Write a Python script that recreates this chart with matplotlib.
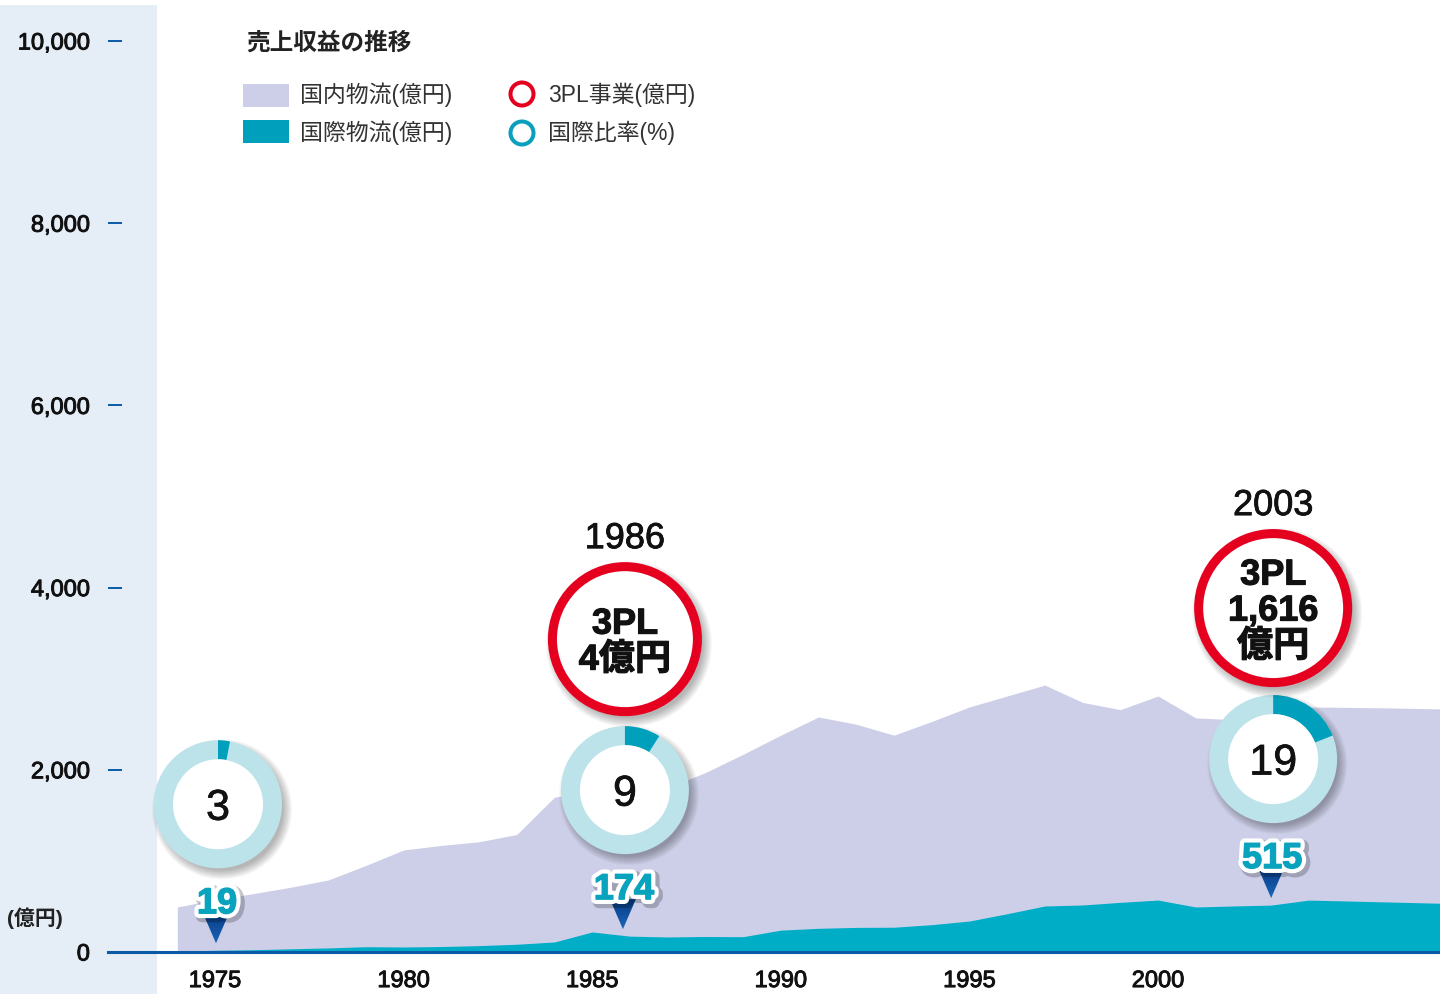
import matplotlib
matplotlib.use('Agg')
import numpy as np
import matplotlib.pyplot as plt
from matplotlib.patches import Rectangle, Circle, Wedge, Polygon
import matplotlib.patheffects as pe
from matplotlib.colors import LinearSegmentedColormap
from matplotlib.ticker import FuncFormatter

plt.rcParams['font.family'] = ['Liberation Sans', 'Noto Sans CJK JP']

# ---------------- data ----------------
years = list(range(1974, 2009))
domestic = [494, 575, 640, 710, 790, 950, 1120, 1170, 1210, 1290,
            1700, 1770, 1790, 1800, 1970, 2170, 2380, 2580, 2500, 2380,
            2530, 2690, 2810, 2930, 2740, 2660, 2810, 2570, 2550, 2600,
            2690, 2685, 2680, 2672, 2665]
international = [10, 19, 25, 35, 45, 58, 55, 60, 70, 85,
                 110, 220, 174, 165, 170, 168, 240, 260, 270, 272,
                 300, 340, 420, 505, 516, 545, 570, 494, 505, 515,
                 570, 560, 550, 540, 530]
xtick_years = [1975, 1980, 1985, 1990, 1995, 2000]
ytick_values = [0, 2000, 4000, 6000, 8000, 10000]
highlight_years = [1975, 1986, 2003]
intl_ratio = [3, 9, 19]
tpl_years = [1986, 2003]
tpl_values = [4, 1616]

title = '売上収益の推移'
legend_labels = ['国内物流(億円)', '国際物流(億円)', '3PL事業(億円)', '国際比率(%)']
unit_label = '(億円)'

# ---------------- style ----------------
W, H = 1440, 994
C_DOM = '#cdcfe8'
C_INT = '#00adc6'
C_PANEL = '#e5edf6'
C_AXIS = '#0a5aa8'
C_RING = '#bde3ea'
C_WEDGE = '#00a0bd'
C_RED = '#e60020'
C_LABEL = '#0aa3be'
TXT = '#111111'
annot_dx = [1, -7, 0]   # small horizontal nudges of the callouts (pixels)


def heavier(w=0.7, c=TXT):
    return [pe.withStroke(linewidth=w, foreground=c)]


fig = plt.figure(figsize=(W / 100, H / 100), dpi=100)
fig.patch.set_facecolor('white')
fig.add_artist(Rectangle((0, 0), 157 / W, (H - 5) / H, transform=fig.transFigure,
                         facecolor=C_PANEL, edgecolor='none', zorder=-10))

ax = fig.add_axes([157 / W, (H - 952) / H, (W - 157) / W, 952 / H])
ax.set_facecolor('white')
px_per_year = 37.72
ax.set_xlim(1975 - 58 / px_per_year, 1975 + 1225 / px_per_year)
ax.set_ylim(0, 952 / 0.0911)
ax.fill_between(years, domestic, color=C_DOM, lw=0, zorder=1)
ax.fill_between(years, international, color=C_INT, lw=0, zorder=2)

for s in ['top', 'right', 'bottom']:
    ax.spines[s].set_visible(False)
ax.spines['left'].set_position(('outward', 25.2))
ax.spines['left'].set_visible(False)

ax.set_yticks(ytick_values)
ax.yaxis.set_major_formatter(FuncFormatter(lambda v, _: f'{int(v):,}'))
ax.tick_params(axis='y', direction='out', length=10.1, width=1.4, color=C_AXIS,
               pad=13, labelsize=17, labelcolor=TXT)
ax.set_xticks(xtick_years)
ax.tick_params(axis='x', length=0, pad=13, labelsize=17, labelcolor=TXT)
for lbl in ax.get_yticklabels() + ax.get_xticklabels():
    lbl.set_path_effects(heavier(0.7))
ax.axhline(0, xmin=-49 / 1283, xmax=1, color=C_AXIS, lw=2.2, clip_on=False, zorder=5)

ax.set_ylabel(unit_label, rotation=0, fontsize=15, fontweight='bold', color='#222')
ax.yaxis.set_label_coords(-122 / 1283, 34 / 952)
ax.yaxis.label.set_ha('center')
ax.yaxis.label.set_va('center')

# ---------------- overlay (pixel coordinates) ----------------
ov = fig.add_axes([0, 0, 1, 1], zorder=3)
ov.axis('off')


def to_px(x, y):
    dx, dy = ax.transData.transform((x, y))
    return dx, H - dy


def soft_shadow(cx, cy, r, dx=4, dy=5):
    for i in range(10):
        ov.add_patch(Circle((cx + dx, cy + dy), r - 3 + i * 1.0, facecolor='black',
                            edgecolor='none', alpha=0.03))


# legend
ov.text(246, 43, title, fontsize=17, fontweight='bold', ha='left', va='center', color='#222')
ov.add_patch(Rectangle((243, 84), 46, 23, facecolor=C_DOM, edgecolor='none'))
ov.add_patch(Rectangle((243, 120), 46, 23, facecolor='#00a0bd', edgecolor='none'))
ov.add_patch(Circle((522, 94), 11.5, facecolor='white', edgecolor=C_RED, lw=2.9))
ov.add_patch(Circle((522, 133), 11.5, facecolor='white', edgecolor='#0aa0bd', lw=2.9))
for (x, y), lab in zip([(300, 95), (300, 133), (548, 95), (548, 133)], legend_labels):
    ov.text(x, y, lab, fontsize=16.5, ha='left', va='center', color='#333')

# annotations
R_OUT, R_IN = 64, 45
tri_cmap = LinearSegmentedColormap.from_list('tri', ['#083a84', '#1a66b8'])
label_fx = [pe.Stroke(linewidth=9, foreground='black', alpha=0.22, offset=(2, -2)),
            pe.Stroke(linewidth=7, foreground='white'),
            pe.Stroke(linewidth=1.0, foreground=C_LABEL), pe.Normal()]
donut_centers = {}
for yr, pct, ddx in zip(highlight_years, intl_ratio, annot_dx):
    val = international[years.index(yr)]
    x, ytop = to_px(yr, val)
    x += ddx
    tip = ytop - 7
    lab_c = tip - 43
    # gradient triangle marker
    tri = Polygon([(x - 13, tip - 30), (x + 13, tip - 30), (x, tip)], closed=True,
                  facecolor='none', edgecolor='none')
    ov.add_patch(tri)
    grad = np.linspace(0, 1, 64).reshape(-1, 1)
    im = ov.imshow(grad, cmap=tri_cmap, extent=(x - 13, x + 13, tip, tip - 30),
                   origin='upper', aspect='auto', interpolation='bilinear')
    im.set_clip_path(tri)
    ov.text(x + 1, lab_c + 13, f'{val:,}', fontsize=26, fontweight='bold', color=C_LABEL,
            ha='center', va='baseline', path_effects=label_fx)
    # donut
    cx = x + 2
    cy = lab_c - 96
    soft_shadow(cx, cy, R_OUT)
    ov.add_patch(Circle((cx, cy), R_OUT, facecolor=C_RING, edgecolor='none'))
    ov.add_patch(Wedge((cx, cy), R_OUT, -90, -90 + 3.6 * pct, width=R_OUT - R_IN,
                       facecolor=C_WEDGE, edgecolor='none'))
    ov.add_patch(Circle((cx, cy), R_IN, facecolor='white', edgecolor='none'))
    ov.text(cx, cy + 15.5, str(pct), fontsize=31, ha='center', va='baseline', color=TXT,
            path_effects=heavier(0.5))
    donut_centers[yr] = (cx, cy)

for yr, v in zip(tpl_years, tpl_values):
    x, dcy = donut_centers[yr]
    ro = 77 if v < 100 else 79
    cy = dcy - 151
    soft_shadow(x, cy, ro)
    ov.add_patch(Circle((x, cy), ro - 4.5, facecolor='white', edgecolor=C_RED, lw=6.5))
    vs = f'{v:,}'
    lines = ['3PL', vs + '億円'] if len(vs) <= 2 else ['3PL', vs, '億円']
    n = len(lines)
    for i, ln in enumerate(lines):
        yc = cy + (i - (n - 1) / 2) * 36
        ov.text(x, yc + 12.5, ln, fontsize=26, fontweight='bold', ha='center',
                va='baseline', color=TXT, path_effects=heavier(0.8))
    ov.text(x, cy - ro - 26 + 12, str(yr), fontsize=26, ha='center', va='baseline',
            color=TXT, path_effects=heavier(0.6))

ov.set_xlim(0, W)
ov.set_ylim(H, 0)

fig.savefig('out.png', dpi=100)
